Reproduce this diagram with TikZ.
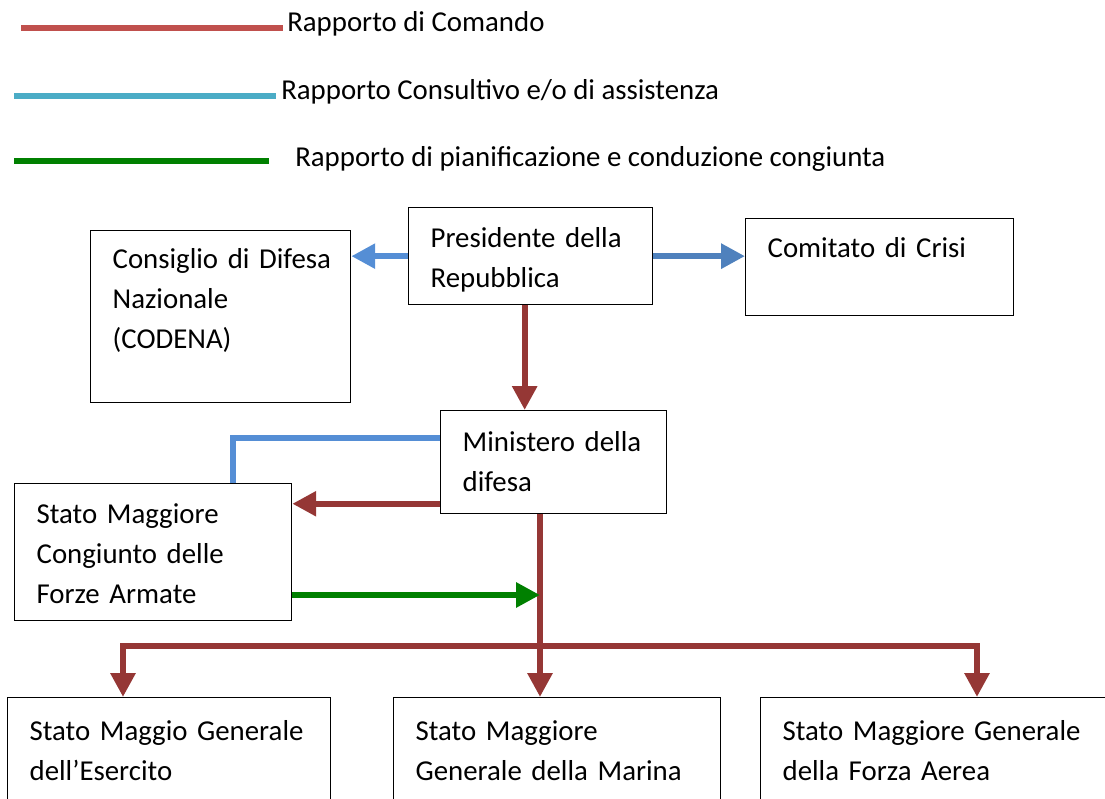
\documentclass[tikz,border=0pt]{standalone}
\usepackage{fontspec}
\setmainfont{Carlito}
\usepackage{tikz}
\usetikzlibrary{arrows.meta, positioning, calc}
\definecolor{cmdred}{RGB}{192,80,77}
\definecolor{advblue}{RGB}{75,172,198}
\definecolor{plangreen}{RGB}{0,128,0}
\definecolor{arrowred}{RGB}{149,55,53}
\definecolor{consblue}{RGB}{85,142,213}
\definecolor{crisisblue}{RGB}{79,129,189}

\begin{document}
\begin{tikzpicture}[
    x=0.025cm, y=-0.025cm,
    orgbox/.style={draw, line width=0.9pt, anchor=north west, align=left, inner xsep=0.55cm, inner ysep=0pt, text height=1cm, font=\fontsize{20.5pt}{28.5pt}\selectfont},
    legtext/.style={anchor=base west, inner sep=0pt, font=\fontsize{20.5pt}{28.5pt}\selectfont},
    legline/.style={line width=4.5pt},
    cmdarrow/.style={-{Triangle[length=17pt, width=17pt]}, line width=4.5pt, arrowred},
    advarrow/.style={-{Triangle[length=17pt, width=17pt]}, line width=4.5pt, consblue},
    planarrow/.style={-{Triangle[length=17pt, width=17pt]}, line width=4.5pt, plangreen}
]
    \useasboundingbox (0,0) rectangle (1105,799);
    \clip (0,0) rectangle (1105,799);

    % Legend
    \coordinate (cmdfrom) at (21,28);
    \coordinate (cmdto) at (283,28);
    \node[legtext] (cmdlabel) at (287,32) {Rapporto di Comando};
    \coordinate (advfrom) at (14,96);
    \coordinate (advto) at (276,96);
    \node[legtext] (advlabel) at (281,100) {Rapporto Consultivo e/o di assistenza};
    \coordinate (planfrom) at (14,161);
    \coordinate (planto) at (269,161);
    \node[legtext] (planlabel) at (295,167) {Rapporto di pianificazione e conduzione congiunta};
    \draw[legline, cmdred] (cmdfrom) -- (cmdto);
    \draw[legline, advblue] (advfrom) -- (advto);
    \draw[legline, plangreen] (planfrom) -- (planto);

    % Top level
    \node[orgbox, text width=5.0cm, text depth=1.425cm] (pres) at (408,207) {Presidente della\\Repubblica};
    \node[orgbox, text width=5.4cm, text height=0.95cm, text depth=3.35cm] (cons) at (90,230) {\mbox{Consiglio di Difesa}\\Nazionale\\(CODENA)};
    \node[orgbox, text width=5.6cm, text height=0.975cm, text depth=1.45cm] (comit) at (745,218) {Comitato di Crisi};

    % Ministry and joint staff
    \node[orgbox, text width=4.55cm, text height=1.025cm, text depth=1.55cm] (mindif) at (440,410) {Ministero della\\difesa};
    \node[orgbox, text width=5.825cm, text depth=2.425cm] (smc) at (14,483) {Stato Maggiore\\Congiunto delle\\Forze Armate};

    % Armed forces staffs
    \node[orgbox, text width=6.975cm, text height=1.075cm, text depth=3cm] (sme) at (7,697) {Stato Maggio Generale\\dell’Esercito};
    \node[orgbox, text width=7.075cm, text height=1.075cm, text depth=3cm] (smm) at (393,697) {Stato Maggiore\\Generale della Marina};
    \node[orgbox, text width=8.15cm, text height=1.075cm, text depth=3cm] (sma) at (760,697) {Stato Maggiore Generale\\della Forza Aerea};

    % Consultive links
    \draw[advarrow] (pres.west) -- (pres.west -| cons.east);
    \draw[advarrow, crisisblue] (pres.east) -- (pres.east -| comit.west);
    \draw[line width=4.5pt, consblue] ([yshift=0.61cm]mindif.west) -| ([xshift=2cm]smc.north);

    % Command links
    \coordinate (split) at (540,646);
    \coordinate (armyjoin) at (123,646);
    \coordinate (airjoin) at (977,646);
    \draw[cmdarrow] ([xshift=-0.15cm]pres.south) -- ([xshift=-0.15cm]pres.south |- mindif.north);
    \draw[cmdarrow] ([yshift=-1.04cm]mindif.west) -- ([yshift=-1.04cm]mindif.west -| smc.east);
    \draw[cmdarrow] (split |- mindif.south) -- (split |- smm.north);
    \draw[cmdarrow] (split) -- (armyjoin) -- (armyjoin |- sme.north);
    \draw[cmdarrow] (split) -- (airjoin) -- (airjoin |- sma.north);

    % Joint planning
    \coordinate (plantip) at (540,595);
    \draw[planarrow] (plantip -| smc.east) -- (plantip);
\end{tikzpicture}
\end{document}
